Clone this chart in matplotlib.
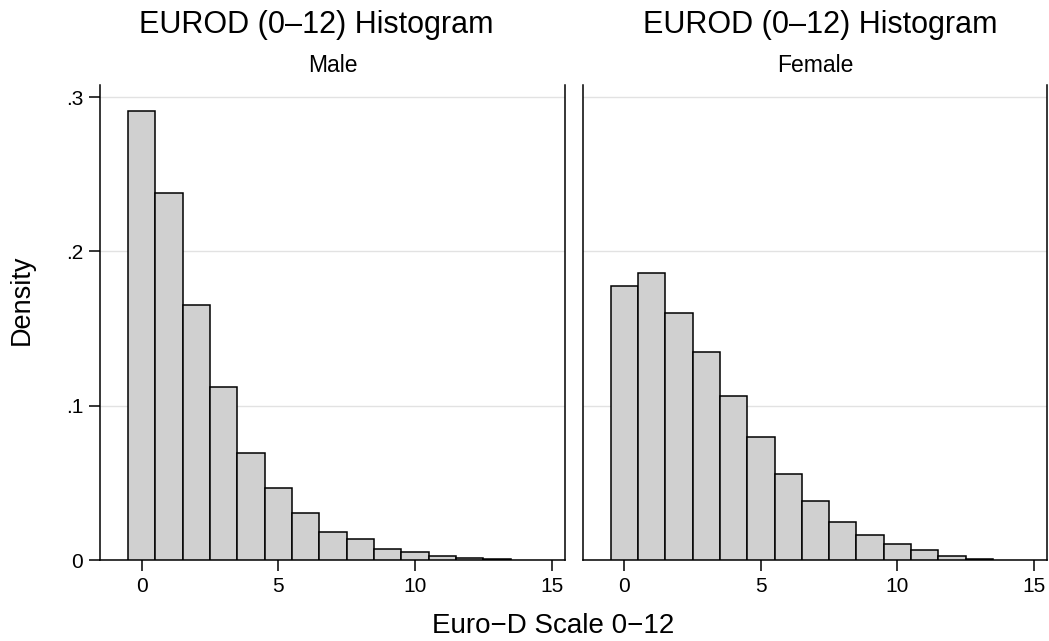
import numpy as np
import matplotlib.pyplot as plt
from matplotlib.ticker import FuncFormatter

plt.rcParams['font.family'] = ['Liberation Sans', 'DejaVu Sans']

# Euro-D score bins (width 1, centred on integers)
scores = np.arange(0, 14)
male = [0.2907, 0.2381, 0.1651, 0.1120, 0.0695, 0.0466, 0.0302,
        0.0183, 0.0136, 0.0071, 0.0050, 0.0026, 0.0013, 0.0004]
female = [0.1774, 0.1863, 0.1601, 0.1347, 0.1060, 0.0799, 0.0559,
          0.0384, 0.0246, 0.0164, 0.0101, 0.0063, 0.0026, 0.0009]
groups = ['Male', 'Female']
title = 'EUROD (0\u201312) Histogram'

fig = plt.figure(figsize=(10.49, 6.41), dpi=100)
W, H = 1049, 641
ax1 = fig.add_axes([100 / W, 81 / H, 465 / W, 475 / H])
ax2 = fig.add_axes([583 / W, 81 / H, 464 / W, 475 / H])

def yfmt(v, pos):
    if abs(v) < 1e-9:
        return '0'
    return ('%.1f' % v).lstrip('0')

for ax, vals, name in zip([ax1, ax2], [male, female], groups):
    ax.bar(scores, vals, width=1.0, color='#d0d0d0', edgecolor='black',
           linewidth=1.1, zorder=3)
    ax.set_xlim(-1.52, 15.48)
    ax.set_ylim(0, 0.3078)
    ax.set_xticks([0, 5, 10, 15])
    ax.set_yticks([0, 0.1, 0.2, 0.3])
    ax.yaxis.set_major_formatter(FuncFormatter(yfmt))
    ax.grid(axis='y', color='#e2e2e2', linewidth=1.0, zorder=0)
    ax.spines['top'].set_visible(False)
    for s in ['left', 'right', 'bottom']:
        ax.spines[s].set_linewidth(1.1)
    ax.tick_params(axis='both', length=8, width=1.1, labelsize=15, pad=4)
    ax.set_title(name, fontsize=16.5, pad=9.5)

ax2.tick_params(axis='y', left=False, labelleft=False)

# overall titles over each subgraph
fig.text(316 / W, 1 - 25 / H, title, ha='center', va='center', fontsize=22)
fig.text(820 / W, 1 - 25 / H, title, ha='center', va='center', fontsize=22)

fig.text(553 / W, 1 - 626 / H, 'Euro\u2212D Scale 0\u221212', ha='center', va='center', fontsize=20)
fig.text(22 / W, 1 - 300 / H, 'Density', ha='center', va='center', rotation=90, fontsize=19.5)

fig.savefig('out.png', dpi=100, facecolor='white')
